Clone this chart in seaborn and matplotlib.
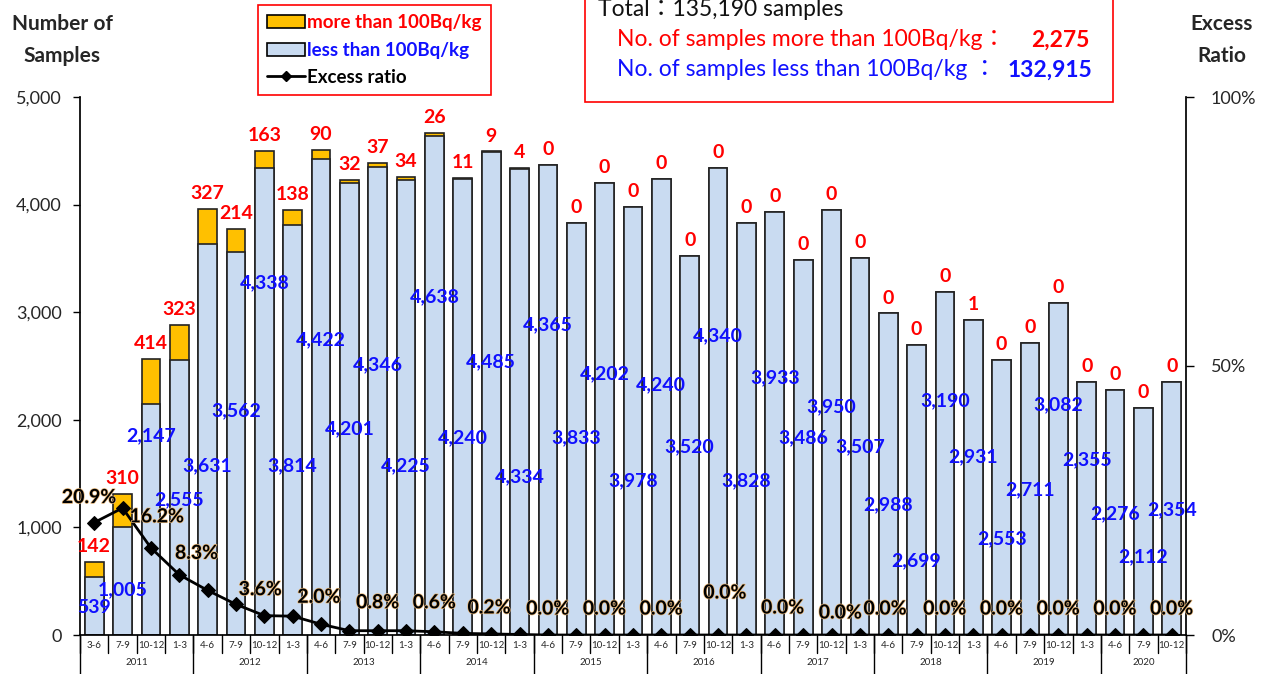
import numpy as np
import pandas as pd
import seaborn as sns
import matplotlib.pyplot as plt
import matplotlib.transforms as mtransforms
import matplotlib.patheffects as pe
from matplotlib.patches import Patch, Rectangle
from matplotlib.lines import Line2D

# ---- data ----
years = ['2011', '2012', '2013', '2014', '2015', '2016', '2017', '2018', '2019', '2020']
year_sizes = [4, 4, 4, 4, 4, 4, 4, 4, 4, 3]
quarters = (['3-6', '7-9', '10-12', '1-3']
            + ['4-6', '7-9', '10-12', '1-3'] * 8
            + ['4-6', '7-9', '10-12'])

less = [539, 1005, 2147, 2555,
        3631, 3562, 4338, 3814,
        4422, 4201, 4346, 4225,
        4638, 4240, 4485, 4334,
        4365, 3833, 4202, 3978,
        4240, 3520, 4340, 3828,
        3933, 3486, 3950, 3507,
        2988, 2699, 3190, 2931,
        2553, 2711, 3082, 2355,
        2276, 2112, 2354]
more = [142, 310, 414, 323,
        327, 214, 163, 138,
        90, 32, 37, 34,
        26, 11, 9, 4,
        0, 0, 0, 0,
        0, 0, 0, 0,
        0, 0, 0, 0,
        0, 0, 0, 1,
        0, 0, 0, 0,
        0, 0, 0]
# excess ratio (%)
ratio = [20.9, 23.6, 16.2, 11.2,
         8.3, 5.7, 3.6, 3.5,
         2.0, 0.8, 0.8, 0.8,
         0.6, 0.3, 0.2, 0.1,
         0.0, 0.0, 0.0, 0.0,
         0.0, 0.0, 0.0, 0.0,
         0.0, 0.0, 0.0, 0.0,
         0.0, 0.0, 0.0, 0.0,
         0.0, 0.0, 0.0, 0.0,
         0.0, 0.0, 0.0]

total_samples = '135,190'
total_more = '2,275'
total_less = '132,915'

# ---- layout only: where the labels sit ----
# height (in samples) of the blue count labels
less_label_y = [260, 420, 1850, 1255, 1570, 2080, 3270, 1570, 2740, 1920,
                2510, 1570, 3140, 1830, 2540, 1470, 2880, 1830, 2430, 1430,
                2330, 1750, 2780, 1430, 2390, 1830, 2120, 1750, 1210, 690,
                2175, 1660, 890, 1350, 2140, 1630, 1130, 725, 1160]
# pixel offsets of the ratio labels (every other point)
pct_offsets = {0: (-5, 25), 2: (6, 31), 4: (-11, 37), 6: (-4, 26), 8: (-2, 27),
               10: (0, 28), 12: (0, 29), 14: (-2, 26), 22: (7, 42), 24: (8, 27),
               26: (9, 22), 28: (-3, 26)}

ORANGE = '#FFC000'
LIGHTBLUE = '#C9DBF1'
RED = '#FF0000'
BLUE = '#1010FF'

sns.set_theme(style='ticks')
plt.rcParams['font.family'] = ['Lato', 'Noto Sans CJK JP', 'DejaVu Sans']

total = [l + m for l, m in zip(less, more)]
idx = list(range(len(less)))
df = pd.DataFrame({'idx': idx, 'less': less, 'total': total})

fig = plt.figure(figsize=(12.61, 6.74), dpi=100)
ax = fig.add_axes([80 / 1261, 39 / 674, 1106 / 1261, 538 / 674])

sns.barplot(data=df, x='idx', y='total', color=ORANGE, saturation=1, width=0.66,
            edgecolor='#222222', linewidth=1.2, errorbar=None, ax=ax)
sns.barplot(data=df, x='idx', y='less', color=LIGHTBLUE, saturation=1, width=0.66,
            edgecolor='#222222', linewidth=1.2, errorbar=None, ax=ax)

ax.set_xlim(-0.5, len(less) - 0.5)
ax.set_ylim(0, 5000)
ax.set_xticks([])
ax.set_xlabel('')
ax.set_ylabel('')
ax.set_yticks(range(0, 5001, 1000))
ax.set_yticklabels([f'{v:,}' for v in range(0, 5001, 1000)], fontsize=13)
ax.tick_params(axis='y', direction='out', length=5, width=1, color='black', pad=8)
for s in ['top', 'right']:
    ax.spines[s].set_visible(False)
ax.spines['left'].set_color('black')
ax.spines['bottom'].set_color('black')

# count labels
for i in idx:
    ax.annotate(f'{more[i]:,}', (i, total[i]), xytext=(0, 5),
                textcoords='offset points', ha='center', va='bottom',
                color=RED, fontweight='bold', fontsize=14)
    ax.text(i, less_label_y[i], f'{less[i]:,}', ha='center', va='center',
            color=BLUE, fontweight='bold', fontsize=14)

# ratio line on the right axis
ax2 = ax.twinx()
sns.lineplot(x=idx, y=ratio, color='black', linewidth=2, marker='D',
             markersize=7, markeredgecolor='black', ax=ax2)
ax2.set_xlim(-0.5, len(less) - 0.5)
ax2.set_ylim(0, 100)
ax2.set_ylabel('')
ax2.set_xlabel('')
ax2.set_yticks([0, 50, 100])
ax2.set_yticklabels(['0%', '50%', '100%'], fontsize=13)
ax2.tick_params(axis='y', direction='out', length=6, width=1, color='black', pad=12)
for s in ['top', 'left', 'bottom']:
    ax2.spines[s].set_visible(False)
ax2.spines['right'].set_color('black')

glow = [pe.withStroke(linewidth=1.0, foreground='#E9B878')]
for i in range(0, len(ratio), 2):
    dx, dy = pct_offsets.get(i, (0, 26))
    ax2.annotate(f'{ratio[i]:.1f}%', (i, ratio[i]), xytext=(dx * 0.72, dy * 0.72),
                 textcoords='offset points', ha='center', va='center',
                 fontsize=14, fontweight='bold', color='black', path_effects=glow)

# two-level category axis
trans = mtransforms.blended_transform_factory(ax.transData, ax.transAxes)
for i, q in enumerate(quarters):
    ax.text(i, -0.019, q, ha='center', va='center', fontsize=7, transform=trans)
start = 0
year_bounds = [-0.5]
for y, n in zip(years, year_sizes):
    ax.text(start + (n - 1) / 2, -0.052, y, ha='center', va='center', fontsize=7,
            transform=trans)
    start += n
    year_bounds.append(start - 0.5)
for b in np.arange(-0.5, len(less), 1.0):
    ax.plot([b, b], [0, -0.034], color='black', lw=1, transform=trans, clip_on=False)
for b in year_bounds:
    ax.plot([b, b], [0, -0.075], color='black', lw=1, transform=trans, clip_on=False)

# axis titles
fig.text(62 / 1261, 1 - 40 / 674, 'Number of\nSamples', ha='center', va='center',
         fontsize=15, fontweight='bold', linespacing=1.75)
fig.text(1222 / 1261, 1 - 40 / 674, 'Excess\nRatio', ha='center', va='center',
         fontsize=15, fontweight='bold', linespacing=1.75)

# legend
handles = [Patch(facecolor=ORANGE, edgecolor='black', linewidth=1.2),
           Patch(facecolor=LIGHTBLUE, edgecolor='black', linewidth=1.2),
           Line2D([0], [0], color='black', lw=2, marker='D', markersize=5)]
leg = fig.legend(handles, ['more than 100Bq/kg', 'less than 100Bq/kg', 'Excess ratio'],
                 loc='upper left', bbox_to_anchor=(258 / 1261, 1 - 5 / 674),
                 bbox_transform=fig.transFigure, fontsize=13.5, frameon=True,
                 fancybox=False, edgecolor=RED, framealpha=1, handlelength=2.0,
                 handleheight=0.7, handletextpad=0.1, labelspacing=0.55,
                 borderpad=0.5, borderaxespad=0)
leg.get_frame().set_linewidth(1.2)
for t, c in zip(leg.get_texts(), [RED, BLUE, 'black']):
    t.set_color(c)
    t.set_fontweight('bold')

# totals box
box = Rectangle((585 / 1261, 1 - 102 / 674), 528 / 1261, 0.2, transform=fig.transFigure,
                facecolor='white', edgecolor=RED, linewidth=1.2, zorder=5)
fig.add_artist(box)
fig.text(598 / 1261, 1 - 10 / 674, f'Total：{total_samples} samples', ha='left',
         va='center', fontsize=16.5, color='#111111', zorder=6)
fig.text(617 / 1261, 1 - 40 / 674, 'No. of samples more than 100Bq/kg：', ha='left',
         va='center', fontsize=16.5, color=RED, zorder=6)
fig.text(1090 / 1261, 1 - 40 / 674, total_more, ha='right', va='center', fontsize=16.5,
         fontweight='bold', color=RED, zorder=6)
fig.text(617 / 1261, 1 - 70 / 674, 'No. of samples less than 100Bq/kg ：', ha='left',
         va='center', fontsize=16.5, color=BLUE, zorder=6)
fig.text(1092 / 1261, 1 - 70 / 674, total_less, ha='right', va='center', fontsize=16.5,
         fontweight='bold', color=BLUE, zorder=6)

fig.savefig('out.png', dpi=100, facecolor='white')
